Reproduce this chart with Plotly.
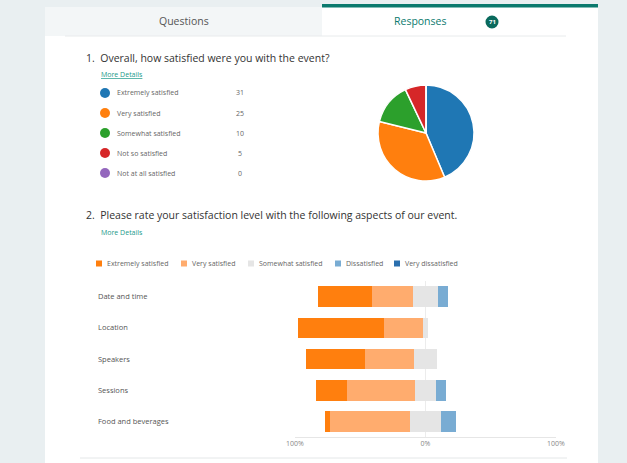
import plotly.graph_objects as go

W, H = 627, 463

# ---------------- data ----------------
q1_title = "1.  Overall, how satisfied were you with the event?"
q1_labels = ["Extremely satisfied", "Very satisfied", "Somewhat satisfied",
             "Not so satisfied", "Not at all satisfied"]
q1_counts = [31, 25, 10, 5, 0]
q1_colors = ["#1f77b4", "#ff7f0e", "#2ca02c", "#d62728", "#9467bd"]

q2_title = "2.  Please rate your satisfaction level with the following aspects of our event."
q2_aspects = ["Date and time", "Location", "Speakers", "Sessions", "Food and beverages"]
q2_levels = ["Extremely satisfied", "Very satisfied", "Somewhat satisfied",
             "Dissatisfied", "Very dissatisfied"]
q2_extremely = [41.5, 66.0, 45.5, 24.0, 4.0]
q2_very = [31.5, 30.0, 37.5, 52.0, 61.5]
q2_somewhat = [18.5, 4.0, 17.0, 16.0, 23.0]
q2_dissat = [8.0, 0.0, 0.0, 8.0, 11.5]
q2_very_dissat = [0.0, 0.0, 0.0, 0.0, 0.0]
q2_colors = ["#ff7f0e", "#ffac6e", "#e5e5e5", "#79acd3", "#2b6fae"]
tick_vals = [-100, 0, 100]
tick_text = ["100%", "0%", "100%"]
response_count = 71

FONT = "Open Sans"
TEAL = "#0b7a6e"


def px(x):
    return x / W


def py(y):
    return 1 - y / H


fig = go.Figure()

# ---------------- pie ----------------
cx, cy, r = 426, 133, 48
fig.add_trace(go.Pie(
    labels=q1_labels, values=q1_counts, sort=False, direction="clockwise",
    marker=dict(colors=q1_colors, line=dict(color="white", width=1.5)),
    textinfo="none", showlegend=False, hoverinfo="label+value",
    domain=dict(x=[px(cx - r), px(cx + r)], y=[py(cy + r), py(cy - r)]),
))

# ---------------- diverging bars ----------------
n = len(q2_aspects)
ypos = list(range(n))
start = [-(q2_extremely[i] + q2_very[i] + q2_somewhat[i] / 2) for i in range(n)]
series = [q2_extremely, q2_very, q2_somewhat, q2_dissat, q2_very_dissat]
bases = [
    start,
    [start[i] + q2_extremely[i] for i in range(n)],
    [-q2_somewhat[i] / 2 for i in range(n)],
    [q2_somewhat[i] / 2 for i in range(n)],
    [q2_somewhat[i] / 2 + q2_dissat[i] for i in range(n)],
]
for name, vals, base, col in zip(q2_levels, series, bases, q2_colors):
    fig.add_trace(go.Bar(
        y=ypos, x=vals, base=base, orientation="h", name=name,
        marker=dict(color=col, line=dict(width=0)), width=0.66,
        showlegend=False, xaxis="x", yaxis="y",
    ))

fig.update_layout(
    width=W, height=H, autosize=False,
    margin=dict(l=0, r=0, t=0, b=0, pad=0, autoexpand=False),
    paper_bgcolor="#e9eff1", plot_bgcolor="rgba(0,0,0,0)",
    barmode="overlay", bargap=0, showlegend=False,
    font=dict(family=FONT, color="#444"),
    xaxis=dict(domain=[px(295), px(556)], range=[-100, 100],
               tickvals=tick_vals, ticktext=tick_text,
               tickfont=dict(size=7, color="#888"),
               showgrid=True, gridcolor="#ececec", gridwidth=1,
               zeroline=False, showline=True, linecolor="#e6e6e6",
               ticks="", fixedrange=True, automargin=False),
    yaxis=dict(domain=[py(436.5), py(280.5)], range=[n - 0.5, -0.5],
               showticklabels=False, showgrid=False, zeroline=False,
               fixedrange=True, automargin=False),
    hovermode="closest",
)

shapes = []
annotations = []


def rect(x0, y0, x1, y1, color, layer="below"):
    shapes.append(dict(type="rect", xref="paper", yref="paper",
                       x0=px(x0), x1=px(x1), y0=py(y1), y1=py(y0),
                       fillcolor=color, line=dict(width=0), layer=layer))


def hline(x0, x1, y, color, w=1):
    shapes.append(dict(type="line", xref="paper", yref="paper",
                       x0=px(x0), x1=px(x1), y0=py(y), y1=py(y),
                       line=dict(color=color, width=w), layer="below"))


def text(x, y, s, size, color, anchor="left", **kw):
    annotations.append(dict(xref="paper", yref="paper", x=px(x), y=py(y),
                            text=s, showarrow=False, xanchor=anchor,
                            yanchor="middle",
                            font=dict(size=size, color=color, family=FONT), **kw))


# card and tabs
rect(45, 7, 598, H, "white")
rect(45, 7, 322, 36, "#f3f6f7")
rect(322, 4, 598, 7.5, TEAL)
hline(65, 566, 36, "#e8ebec")
text(183.5, 21, "Questions", 10.5, "#555", anchor="center")
text(420, 21, "Responses", 10.5, TEAL, anchor="center")
shapes.append(dict(type="circle", xref="paper", yref="paper",
                   x0=px(485.5), x1=px(498.5), y0=py(28.5), y1=py(15.5),
                   fillcolor="#0a6a5d", line=dict(width=0), layer="above"))
text(492, 22, "<b>%d</b>" % response_count, 6, "white", anchor="center")

# question 1
text(84, 58, q1_title, 10.5, "#333")
text(99, 75, "<u>More Details</u>", 7, "#1a9a8a")
for i, (lab, cnt, col) in enumerate(zip(q1_labels, q1_counts, q1_colors)):
    yy = 93 + 20 * i
    shapes.append(dict(type="circle", xref="paper", yref="paper",
                       x0=px(100), x1=px(110), y0=py(yy + 5), y1=py(yy - 5),
                       fillcolor=col, line=dict(width=0), layer="above"))
    text(115, yy, lab, 7, "#666")
    text(240, yy, str(cnt), 7, "#666", anchor="center")

# question 2
text(84, 215, q2_title, 10.5, "#333")
text(99, 233, "More Details", 7, "#1a9a8a")
leg_x = [96, 181, 248, 335, 394]
for lx, lab, col in zip(leg_x, q2_levels, q2_colors):
    rect(lx, 260.5, lx + 6, 266.5, col, layer="above")
    text(lx + 8.5, 263.5, lab, 7, "#666")

for i, a in enumerate(q2_aspects):
    annotations.append(dict(xref="paper", yref="y", x=px(96), y=i, text=a,
                            showarrow=False, xanchor="left", yanchor="middle",
                            font=dict(size=7.5, color="#555", family=FONT)))

hline(80, 567, 458, "#e4e7e8")

fig.update_layout(shapes=shapes, annotations=annotations)
fig.write_html("out.html")
